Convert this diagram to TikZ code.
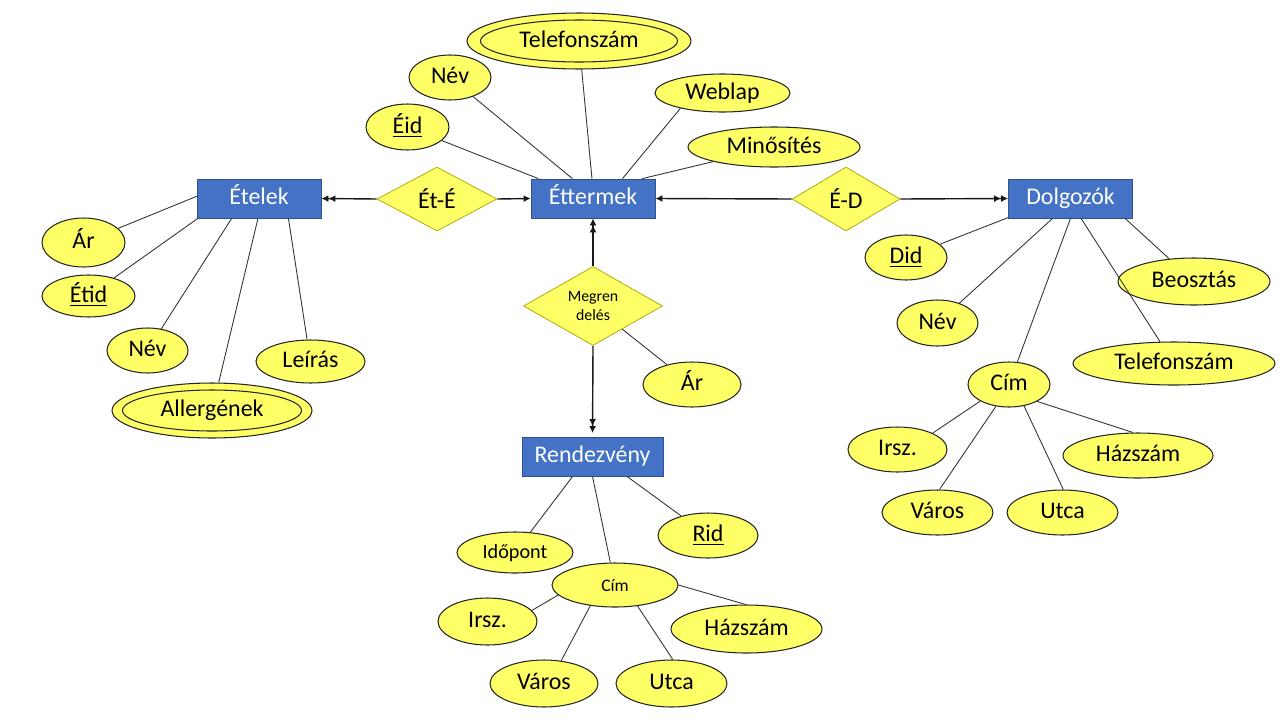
\documentclass[tikz,border=0pt]{standalone}
\usepackage{fontspec}
\setmainfont{Carlito}
\usepackage{tikz}
\usepackage{xcolor}
\usetikzlibrary{shapes.geometric, arrows.meta}

\definecolor{entblue}{HTML}{4472C4}
\definecolor{entedge}{HTML}{2F528F}
\definecolor{attrfill}{HTML}{FFFF66}
\definecolor{reledge}{HTML}{A6A600}

\tikzset{
  entity/.style={rectangle, draw=entedge, fill=entblue, text=white,
    minimum width=2.48cm, minimum height=0.78cm, inner sep=0pt,
    text height=1.9ex, text depth=0.4ex},
  relation/.style={diamond, draw=reledge, fill=attrfill, inner sep=0pt},
  attr/.style={ellipse, draw=black!85, line width=0.6pt, fill=attrfill, inner sep=0pt,
    text height=1.9ex, text depth=0.4ex},
  attrline/.style={draw=black!80, line width=0.5pt},
  relline/.style={draw=black!90, line width=0.8pt},
  one/.style={relline, -{Latex[length=4pt,width=4pt]}},
  many/.style={relline, -{Latex[length=4pt,width=4pt]Latex[length=4pt,width=4pt]}}
}

\begin{document}
\begin{tikzpicture}[x=0.02cm, y=-0.02cm, font=\fontsize{13.6}{16}\selectfont]

\useasboundingbox (0,0) rectangle (1280,720);

% Egyedek
\node[entity] (etelek) at (259,198.5) {Ételek};
\node[entity] (ettermek) at (593,198.5) {Éttermek};
\node[entity] (dolgozok) at (1070.5,198.5) {Dolgozók};
\node[entity, minimum width=2.82cm] (rendezveny) at (592.5,456.5) {Rendezvény};

% Kapcsolatok
\node[relation, minimum width=2.4cm, minimum height=1.28cm] (ete) at (437,199) {Ét-É};
\node[relation, minimum width=2.16cm, minimum height=1.28cm] (ed) at (846,199) {É-D};
\node[relation, minimum width=2.78cm, minimum height=1.24cm, align=center,
  font=\fontsize{9}{10.5}\selectfont] (megr) at (593,306) {Megren\\delés};

\draw[many] (ete.west) -- (etelek.east);
\draw[one] (ete.east) -- (ettermek.west);
\draw[one] (ed.west) -- (ettermek.east);
\draw[many] (ed.east) -- (dolgozok.west);
\draw[many] (megr.north) -- (ettermek.south);
\draw[many, shorten >=2pt] (megr.south) -- (rendezveny.north);

% Éttermek attribútumai
\node[attr, minimum width=4.48cm, minimum height=1.12cm] (etelefon) at (579,41) {Telefonszám};
\draw[attr, fill=none] (etelefon.center) ellipse [x radius=1.97cm, y radius=0.42cm];
\node[attr, minimum width=1.64cm, minimum height=0.90cm] (enev) at (450,77.5) {Név};
\node[attr, minimum width=1.66cm, minimum height=0.92cm] (eid) at (407.5,127) {\underline{Éid}};
\node[attr, minimum width=2.70cm, minimum height=0.76cm] (eweb) at (722.5,93) {Weblap};
\node[attr, minimum width=3.44cm, minimum height=0.80cm] (eminos) at (774,147) {Minősítés};

\draw[attrline] (eid) -- (ettermek.160);
\draw[attrline] (enev) -- (ettermek.136);
\draw[attrline] (etelefon) -- (ettermek.93);
\draw[attrline] (eweb.200) -- (ettermek.34);
\draw[attrline] (eminos) -- (ettermek.22);

% Ételek attribútumai
\node[attr, minimum width=1.66cm, minimum height=0.98cm] (tar) at (83.5,242.5) {Ár};
\node[attr, minimum width=1.86cm, minimum height=0.84cm] (tid) at (88.5,296) {\underline{Étid}};
\node[attr, minimum width=1.62cm, minimum height=0.90cm] (tnev) at (147.5,350.5) {Név};
\node[attr, minimum width=2.18cm, minimum height=0.86cm] (tleir) at (310.5,361.5) {Leírás};
\node[attr, minimum width=4.00cm, minimum height=1.10cm] (tallerg) at (212,410.5) {Allergének};
\draw[attr, fill=none] (tallerg.center) ellipse [x radius=1.79cm, y radius=0.41cm];

\draw[attrline] (tar) -- (etelek.178);
\draw[attrline] (tid) -- (etelek.198);
\draw[attrline] (tnev) -- (etelek.216);
\draw[attrline] (tallerg) -- (etelek.267);
\draw[attrline] (tleir) -- (etelek.326);

% Dolgozók attribútumai
\node[attr, minimum width=1.64cm, minimum height=0.90cm] (did) at (906,257.5) {\underline{Did}};
\node[attr, minimum width=1.62cm, minimum height=0.92cm] (dnev) at (937.5,323) {Név};
\node[attr, minimum width=3.04cm, minimum height=0.94cm] (dbeo) at (1194,281.5) {Beosztás};
\node[attr, minimum width=4.04cm, minimum height=0.86cm] (dtel) at (1174,363.5) {Telefonszám};
\node[attr, minimum width=1.64cm, minimum height=0.90cm] (dcim) at (1009,384.5) {Cím};
\node[attr, minimum width=1.98cm, minimum height=0.90cm] (dirsz) at (897.5,449.5) {Irsz.};
\node[attr, minimum width=3.00cm, minimum height=0.90cm] (dhaz) at (1138,455.5) {Házszám};
\node[attr, minimum width=2.22cm, minimum height=0.90cm] (dvaros) at (937.5,512.5) {Város};
\node[attr, minimum width=2.22cm, minimum height=0.90cm] (dutca) at (1062.5,512.5) {Utca};

\draw[attrline] (did) -- (dolgozok.197);
\draw[attrline] (dnev) -- (dolgozok.228);
\draw[attrline] (dcim) -- (dolgozok.270);
\draw[attrline] (dtel) -- (dolgozok.298);
\draw[attrline] (dbeo) -- (dolgozok.340);
\draw[attrline] (dcim.210) -- (dirsz.25);
\draw[attrline] (dcim.239) -- (dvaros.85);
\draw[attrline] (dcim.305) -- (dutca.88);
\draw[attrline] (dcim.329) -- (dhaz.102);

% Rendezvény attribútumai
\node[attr, minimum width=2.32cm, minimum height=0.82cm,
  font=\fontsize{11.5}{13}\selectfont] (ridopont) at (515,552.5) {Időpont};
\node[attr, minimum width=2.00cm, minimum height=0.90cm] (rid) at (708,535.5) {\underline{Rid}};
\node[attr, minimum width=2.52cm, minimum height=0.88cm,
  font=\fontsize{10}{12}\selectfont] (rcim) at (615,585) {Cím};
\node[attr, minimum width=1.98cm, minimum height=0.94cm] (rirsz) at (487.5,621.5) {Irsz.};
\node[attr, minimum width=3.02cm, minimum height=0.96cm] (rhaz) at (746.5,629) {Házszám};
\node[attr, minimum width=2.16cm, minimum height=0.94cm] (rvaros) at (544,683.5) {Város};
\node[attr, minimum width=2.22cm, minimum height=0.94cm] (rutca) at (671.5,683.5) {Utca};

\draw[attrline] (ridopont) -- (rendezveny.225);
\draw[attrline] (rcim) -- (rendezveny.270);
\draw[attrline] (rid) -- (rendezveny.330);
\draw[attrline] (rcim.190) -- (rirsz.14);
\draw[attrline] (rcim.220) -- (rvaros.53);
\draw[attrline] (rcim.317) -- (rutca.87);
\draw[attrline] (rcim.east) -- (rhaz.92);

% Megrendelés attribútuma
\node[attr, minimum width=1.96cm, minimum height=0.90cm] (mar) at (692,384.5) {Ár};
\draw[attrline] (megr) -- (mar);

\end{tikzpicture}
\end{document}
